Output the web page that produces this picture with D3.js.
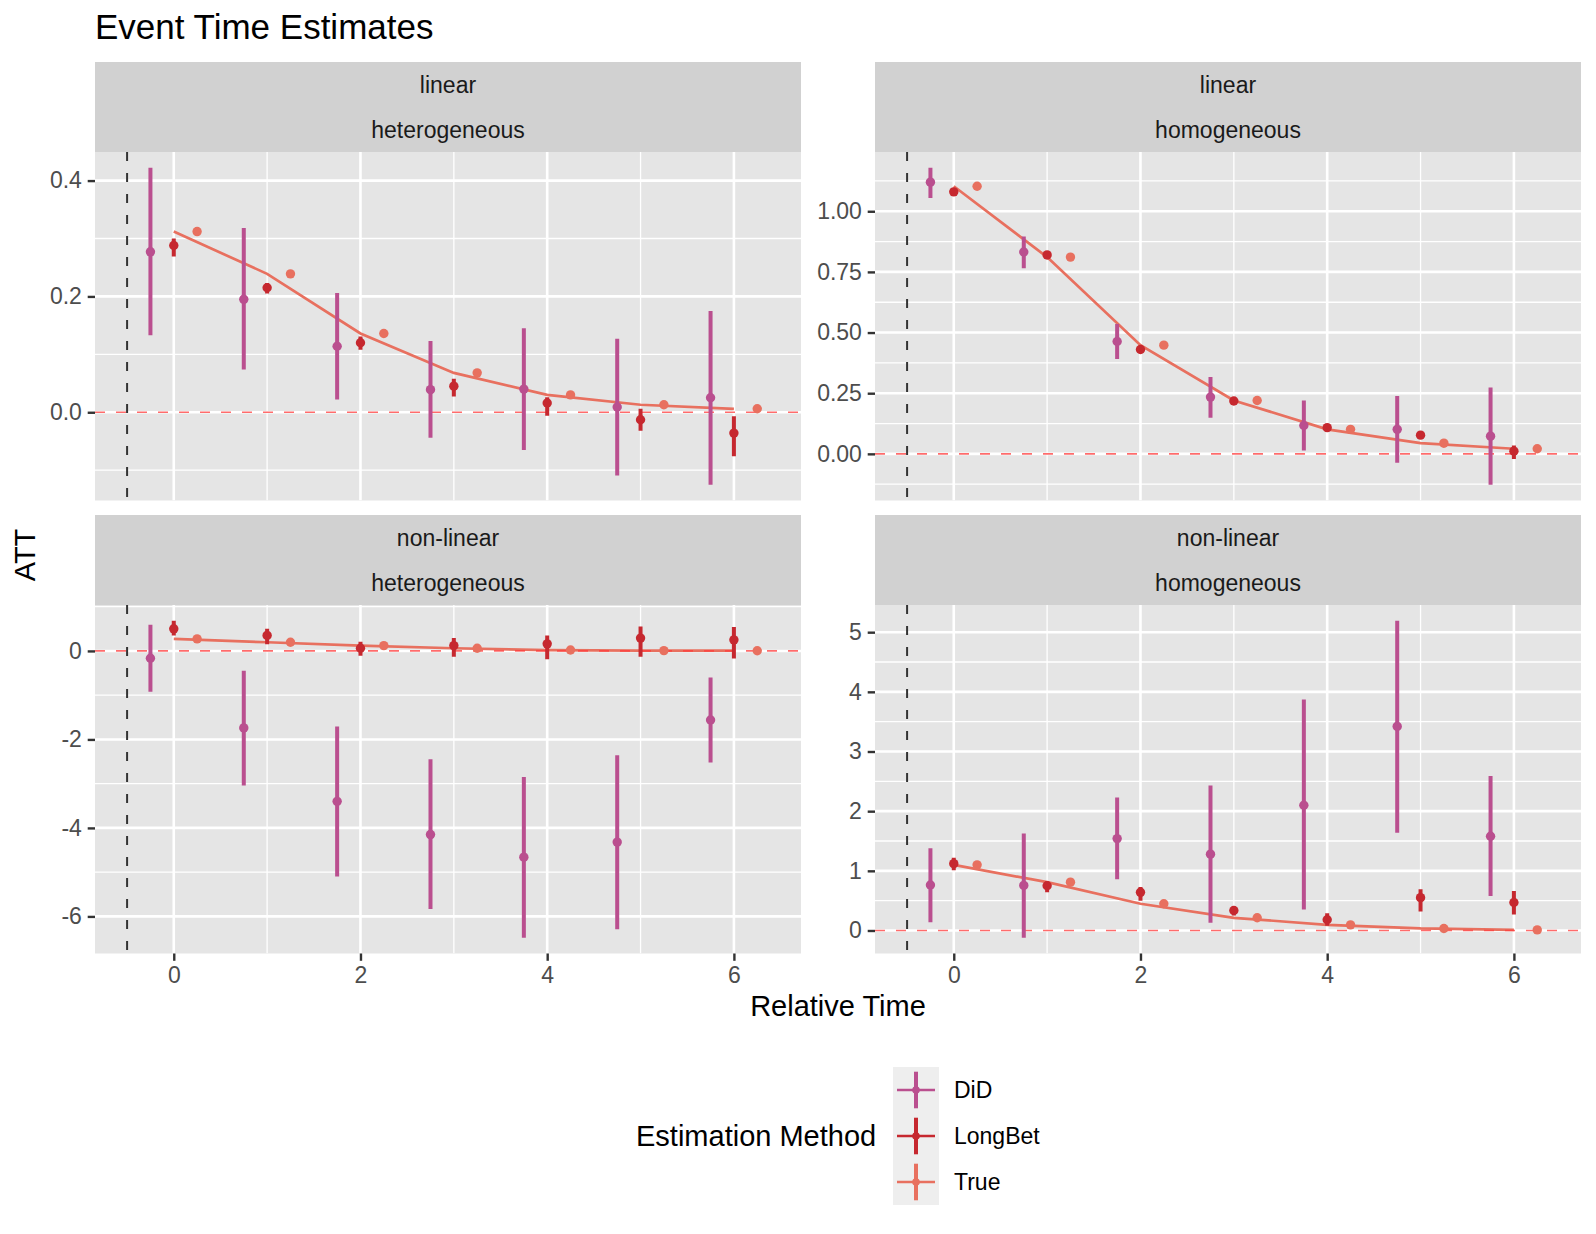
<!DOCTYPE html>
<html>
<head>
<meta charset="utf-8">
<script src="https://cdn.jsdelivr.net/npm/d3@7"></script>
<style>
  body { margin: 0; background: #fff; }
  text { font-family: 'Liberation Sans', Arial, Helvetica, sans-serif; }
</style>
</head>
<body>
<div id="chart"></div>
<script>
// event times and series names
const relTime = [0, 1, 2, 3, 4, 5, 6];
const methods = ['DiD', 'LongBet', 'True'];
const xTicks = [0, 2, 4, 6];

// [estimate, lower, upper] per event time

// linear / heterogeneous
const linHetDiD = [[0.277, 0.133, 0.422], [0.195, 0.074, 0.318], [0.114, 0.022, 0.206], [0.039, -0.044, 0.123], [0.040, -0.065, 0.145], [0.009, -0.109, 0.127], [0.025, -0.125, 0.175]];
const linHetLongBet = [[0.288, 0.269, 0.300], [0.215, 0.205, 0.223], [0.120, 0.108, 0.131], [0.045, 0.027, 0.058], [0.016, -0.006, 0.026], [-0.013, -0.032, 0.006], [-0.036, -0.076, -0.007]];
const linHetTrue = [0.312, 0.239, 0.136, 0.068, 0.030, 0.013, 0.006];
const linHetTicks = [0, 0.2, 0.4];

// linear / homogeneous
const linHomDiD = [[1.120, 1.055, 1.179], [0.832, 0.765, 0.896], [0.463, 0.391, 0.535], [0.234, 0.149, 0.317], [0.117, 0.014, 0.220], [0.101, -0.037, 0.238], [0.073, -0.127, 0.273]];
const linHomLongBet = [[1.080, 1.065, 1.095], [0.820, 0.810, 0.830], [0.430, 0.420, 0.440], [0.218, 0.205, 0.230], [0.108, 0.093, 0.123], [0.077, 0.070, 0.085], [0.011, -0.021, 0.034]];
const linHomTrue = [1.103, 0.811, 0.448, 0.220, 0.101, 0.044, 0.021];
const linHomTicks = [0, 0.25, 0.5, 0.75, 1];

// non-linear / heterogeneous
const nonHetDiD = [[-0.166, -0.92, 0.59], [-1.74, -3.04, -0.45], [-3.40, -5.10, -1.71], [-4.15, -5.83, -2.45], [-4.66, -6.48, -2.85], [-4.32, -6.29, -2.36], [-1.56, -2.52, -0.60]];
const nonHetLongBet = [[0.50, 0.35, 0.68], [0.35, 0.15, 0.50], [0.06, -0.11, 0.21], [0.12, -0.13, 0.29], [0.16, -0.19, 0.35], [0.29, -0.13, 0.55], [0.25, -0.17, 0.54]];
const nonHetTrue = [0.272, 0.196, 0.12, 0.06, 0.02, 0.008, 0.005];
const nonHetTicks = [-6, -4, -2, 0];

// non-linear / homogeneous
const nonHomDiD = [[0.762, 0.14, 1.38], [0.756, -0.12, 1.625], [1.54, 0.857, 2.23], [1.28, 0.13, 2.43], [2.10, 0.35, 3.87], [3.42, 1.64, 5.19], [1.58, 0.58, 2.59]];
const nonHomLongBet = [[1.12, 1.01, 1.22], [0.75, 0.64, 0.82], [0.64, 0.50, 0.73], [0.336, 0.25, 0.40], [0.18, 0.08, 0.29], [0.55, 0.32, 0.69], [0.47, 0.27, 0.66]];
const nonHomTrue = [1.10, 0.81, 0.448, 0.213, 0.095, 0.034, 0.01];
const nonHomTicks = [0, 1, 2, 3, 4, 5];

// styling
const colors = { DiD: '#ba4f8f', LongBet: '#c6282f', True: '#e8705f' };
const dodge = { DiD: -0.25, LongBet: 0, True: 0.25 };
const width = 1596, height = 1234;
const panelW = 706, panelH = 348.5, stripH = 90;
const panelFill = '#e5e5e5', stripFill = '#d1d1d1';

const panels = [
  { row: 'linear', col: 'heterogeneous', did: linHetDiD, lb: linHetLongBet, tru: linHetTrue, ticks: linHetTicks, fmt: '.1f', left: 95, top: 152, xaxis: false },
  { row: 'linear', col: 'homogeneous', did: linHomDiD, lb: linHomLongBet, tru: linHomTrue, ticks: linHomTicks, fmt: '.2f', left: 875, top: 152, xaxis: false },
  { row: 'non-linear', col: 'heterogeneous', did: nonHetDiD, lb: nonHetLongBet, tru: nonHetTrue, ticks: nonHetTicks, fmt: 'd', left: 95, top: 605, xaxis: true },
  { row: 'non-linear', col: 'homogeneous', did: nonHomDiD, lb: nonHomLongBet, tru: nonHomTrue, ticks: nonHomTicks, fmt: 'd', left: 875, top: 605, xaxis: true }
];

let svg = d3.select('#chart')
  .append('svg')
  .attr('width', width)
  .attr('height', height)
  .style('background', '#fff');

// shared x scale, ggplot style 5% expansion
let xLo = -0.5, xHi = 6.375;
let xPad = (xHi - xLo) * 0.05;
let x = d3.scaleLinear().domain([xLo - xPad, xHi + xPad]).range([0, panelW]);

const minorOf = (ticks, dom) => {
  let step = ticks[1] - ticks[0];
  let m = [ticks[0] - step / 2].concat(ticks.map((t) => t + step / 2));
  return m.filter((v) => v >= Math.min(...dom) && v <= Math.max(...dom));
};

const fixMinus = (f) => (v) => d3.format(f)(v).replace('\u2212', '-');

const drawPanel = (p, idx) => {
  // strips (two rows)
  let sg = svg.append('g').attr('transform', `translate(${p.left},${p.top - stripH})`);
  sg.append('rect').attr('width', panelW).attr('height', stripH).attr('fill', stripFill);
  [p.row, p.col].forEach((lab, i) => {
    sg.append('text')
      .attr('x', panelW / 2)
      .attr('y', i * 45 + 31.3)
      .attr('text-anchor', 'middle')
      .attr('font-size', 23)
      .attr('fill', '#1a1a1a')
      .text(lab);
  });

  // free y scale per panel
  let all = p.did.flat().concat(p.lb.flat(), p.tru, [0]);
  let [lo, hi] = d3.extent(all);
  let pad = (hi - lo) * 0.05;
  let y = d3.scaleLinear().domain([lo - pad, hi + pad]).range([panelH, 0]);

  let g = svg.append('g').attr('transform', `translate(${p.left},${p.top})`);
  g.append('clipPath').attr('id', 'clip' + idx)
    .append('rect').attr('width', panelW).attr('height', panelH);
  g.append('rect').attr('width', panelW).attr('height', panelH).attr('fill', panelFill);

  let body = g.append('g').attr('clip-path', `url(#clip${idx})`);

  // grid
  let xMinor = minorOf(xTicks, x.domain());
  let yMinor = minorOf(p.ticks, y.domain());
  body.selectAll('.ymin').data(yMinor).enter().append('line')
    .attr('x1', 0).attr('x2', panelW).attr('y1', y).attr('y2', y)
    .attr('stroke', '#fff').attr('stroke-width', 1.3);
  body.selectAll('.xmin').data(xMinor).enter().append('line')
    .attr('y1', 0).attr('y2', panelH).attr('x1', x).attr('x2', x)
    .attr('stroke', '#fff').attr('stroke-width', 1.3);
  body.selectAll('.ymaj').data(p.ticks).enter().append('line')
    .attr('x1', 0).attr('x2', panelW).attr('y1', y).attr('y2', y)
    .attr('stroke', '#fff').attr('stroke-width', 2.6);
  body.selectAll('.xmaj').data(xTicks).enter().append('line')
    .attr('y1', 0).attr('y2', panelH).attr('x1', x).attr('x2', x)
    .attr('stroke', '#fff').attr('stroke-width', 2.6);

  // treatment start
  body.append('line')
    .attr('x1', x(-0.5)).attr('x2', x(-0.5)).attr('y1', 0).attr('y2', panelH)
    .attr('stroke', '#333').attr('stroke-width', 2).attr('stroke-dasharray', '9,12');

  // true path
  body.append('path')
    .datum(p.tru)
    .attr('d', d3.line().x((d, i) => x(relTime[i])).y((d) => y(d)))
    .attr('fill', 'none')
    .attr('stroke', colors.True)
    .attr('stroke-width', 2.7);

  // zero line
  body.append('line')
    .attr('x1', 0).attr('x2', panelW).attr('y1', y(0)).attr('y2', y(0))
    .attr('stroke', '#ff3b3b').attr('stroke-opacity', 0.75)
    .attr('stroke-width', 1.7).attr('stroke-dasharray', '10,11');

  // intervals + points
  let series = [
    { m: 'DiD', rows: p.did },
    { m: 'LongBet', rows: p.lb },
    { m: 'True', rows: p.tru.map((v) => [v, v, v]) }
  ];
  series.forEach((s) => {
    body.selectAll(null).data(s.rows).enter().append('line')
      .attr('x1', (d, i) => x(relTime[i] + dodge[s.m]))
      .attr('x2', (d, i) => x(relTime[i] + dodge[s.m]))
      .attr('y1', (d) => y(d[1]))
      .attr('y2', (d) => y(d[2]))
      .attr('stroke', colors[s.m])
      .attr('stroke-width', 4);
    body.selectAll(null).data(s.rows).enter().append('circle')
      .attr('cx', (d, i) => x(relTime[i] + dodge[s.m]))
      .attr('cy', (d) => y(d[0]))
      .attr('r', 4.7)
      .attr('fill', colors[s.m]);
  });

  // y axis
  let ya = g.append('g')
    .call(d3.axisLeft(y).tickValues(p.ticks).tickFormat(fixMinus(p.fmt)).tickSize(7.3).tickPadding(5.8));
  ya.select('.domain').remove();
  ya.selectAll('line').attr('stroke', '#333').attr('stroke-width', 2.4);
  ya.selectAll('text').attr('font-size', 23).attr('fill', '#4d4d4d')
    .attr('font-family', "'Liberation Sans', Arial, Helvetica, sans-serif");

  // x axis only on bottom row
  if (p.xaxis) {
    let xa = g.append('g')
      .attr('transform', `translate(0,${panelH})`)
      .call(d3.axisBottom(x).tickValues(xTicks).tickFormat(d3.format('d')).tickSize(7.3).tickPadding(5.8));
    xa.select('.domain').remove();
    xa.selectAll('line').attr('stroke', '#333').attr('stroke-width', 2.4);
    xa.selectAll('text').attr('font-size', 23).attr('fill', '#4d4d4d')
      .attr('font-family', "'Liberation Sans', Arial, Helvetica, sans-serif");
  }
};

panels.forEach(drawPanel);

// titles
svg.append('text')
  .attr('x', 95).attr('y', 39.3)
  .attr('font-size', 35).attr('fill', '#000')
  .text('Event Time Estimates');

svg.append('text')
  .attr('x', 838).attr('y', 1016)
  .attr('text-anchor', 'middle')
  .attr('font-size', 29).attr('fill', '#000')
  .text('Relative Time');

svg.append('text')
  .attr('transform', 'translate(35,555) rotate(-90)')
  .attr('text-anchor', 'middle')
  .attr('font-size', 29).attr('fill', '#000')
  .text('ATT');

// legend
let leg = svg.append('g');
leg.append('text')
  .attr('x', 636).attr('y', 1146)
  .attr('font-size', 29).attr('fill', '#000')
  .text('Estimation Method');

leg.append('rect')
  .attr('x', 893).attr('y', 1067)
  .attr('width', 46).attr('height', 138)
  .attr('fill', '#eeeeee');

methods.forEach((m, i) => {
  let cy = 1090 + i * 46;
  leg.append('line')
    .attr('x1', 897).attr('x2', 935).attr('y1', cy).attr('y2', cy)
    .attr('stroke', colors[m]).attr('stroke-width', 2.7);
  leg.append('line')
    .attr('x1', 916).attr('x2', 916).attr('y1', cy - 18.3).attr('y2', cy + 18.3)
    .attr('stroke', colors[m]).attr('stroke-width', 4);
  leg.append('circle')
    .attr('cx', 916).attr('cy', cy).attr('r', 3.8)
    .attr('fill', colors[m]);
  leg.append('text')
    .attr('x', 954).attr('y', cy + 8.2)
    .attr('font-size', 23).attr('fill', '#000')
    .text(m);
});
</script>
</body>
</html>
